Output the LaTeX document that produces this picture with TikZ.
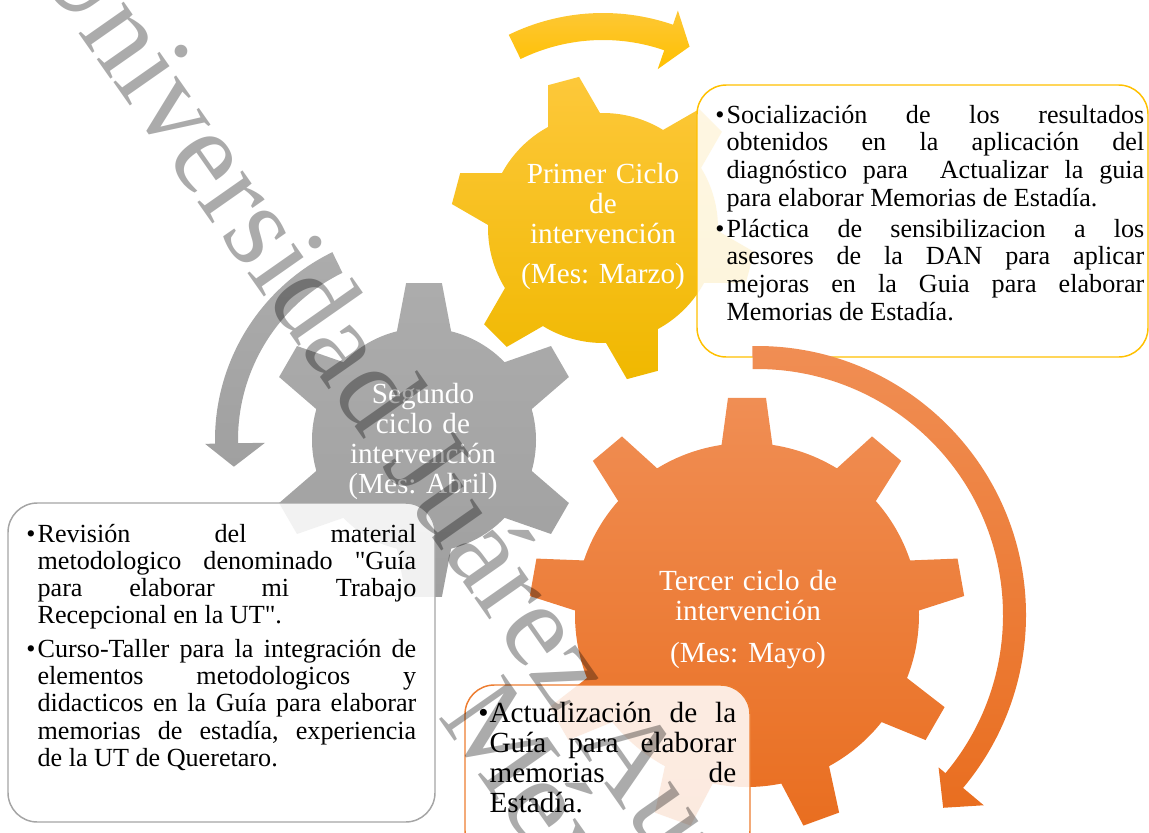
\documentclass[tikz,border=0pt]{standalone}
\usepackage{fontspec}
\setmainfont{Liberation Serif}[Ligatures=TeXOff]
\usetikzlibrary{positioning}
\setlength{\parindent}{0pt}
\frenchspacing

\definecolor{yellowtop}{RGB}{253,200,58}
\definecolor{yellowbot}{RGB}{240,184,0}
\definecolor{graytop}{RGB}{172,172,172}
\definecolor{graybot}{RGB}{160,160,160}
\definecolor{orangetop}{RGB}{240,142,84}
\definecolor{orangebot}{RGB}{233,110,32}
\definecolor{lineyellow}{RGB}{255,192,0}
\definecolor{linegray}{RGB}{165,165,165}
\definecolor{lineorange}{RGB}{237,125,49}

% outline of a gear: teeth, first tooth angle, body radius, tip radius, half angle at base, half angle at tip
\newcommand{\gearoutline}[6]{(#2-#5:#3)
  \foreach \k [evaluate=\k as \a using #2+360*(\k-1)/#1] in {1,...,#1}{
    -- (\a-#5:#3) -- (\a-#6:#4) -- (\a+#6:#4) -- (\a+#5:#3)
    arc[start angle={\a+#5}, end angle={\a+360/#1-#5}, radius=#3]
  } -- cycle}

\newcommand{\bitem}[1]{\hangindent=8.5pt\hangafter=1\makebox[8.5pt][l]{\textbullet}#1\par}

\tikzset{
  gearlabel/.style={text=white, align=center, text width=170pt, inner sep=0pt, anchor=base,
    font=\fontsize{21.9}{22.5}\selectfont},
  boxtext/.style={text=black, align=justify, inner sep=0pt, anchor=base west},
  notebox/.style={line width=1.1pt, rounded corners=22pt, fill=white, fill opacity=0.86},
  watermark/.style={rotate=-55, anchor=base west, inner sep=0pt, text=black, text opacity=0.33,
    font=\fontsize{90}{92}\selectfont}
}

\begin{document}
\begin{tikzpicture}[x=0.75pt, y=-0.75pt]
\useasboundingbox (0,0) rectangle (1149,832);

% gears
\begin{scope}[shift={(424,440)}]
\path[top color=graytop, bottom color=graybot] \gearoutline{6}{-90}{112}{158}{14}{6.5};
\end{scope}
\begin{scope}[shift={(603,228)}]
\path[top color=yellowtop, bottom color=yellowbot] \gearoutline{6}{-45}{115}{153}{13.5}{6};
\end{scope}
\begin{scope}[shift={(747,615)}]
\path[top color=orangetop, bottom color=orangebot] \gearoutline{9}{-90}{172}{218}{8.5}{5};
\end{scope}

\node[gearlabel] (primer) at (603,183) {Primer Ciclo\\de\\intervención\\[7.5pt](Mes: Marzo)};
\node[gearlabel] (segundo) at (423,403) {Segundo\\ciclo de\\intervención\\(Mes: Abril)};
\node[gearlabel] (tercer) at (748,590) {Tercer ciclo de\\intervención\\[9pt](Mes: Mayo)};

% boxes
\draw[notebox, draw=lineyellow] (697,85) rectangle (1148,357);
\draw[notebox, draw=linegray] (8,503) rectangle (435,822);
\draw[notebox, draw=lineorange] (465,685) rectangle (750,860);

\node[boxtext, text width=321.75pt, font=\fontsize{19.6}{20.8}\selectfont] (marzotext) at (715,123) {%
\tolerance=10000\hbadness=10000\setlength{\parskip}{2.3pt}%
\bitem{Socialización de los resultados\linebreak obtenidos en la aplicación del\linebreak diagnóstico para \ Actualizar la guia\linebreak para elaborar Memorias de Estadía.}%
\bitem{Pláctica de sensibilizacion a los\linebreak asesores de la DAN para aplicar\linebreak mejoras en la Guia para elaborar\linebreak Memorias de Estadía.}};

\node[boxtext, text width=292.5pt, font=\fontsize{19.6}{20.4}\selectfont] (abriltext) at (26,542) {%
\tolerance=10000\hbadness=10000\setlength{\parskip}{5pt}%
\bitem{Revisión del material\linebreak metodologico denominado "Guía\linebreak para elaborar mi Trabajo\linebreak Recepcional en la UT".}%
\bitem{Curso-Taller para la integración de\linebreak elementos metodologicos y\linebreak didacticos en la Guía para elaborar\linebreak memorias de estadía, experiencia\linebreak de la UT de Queretaro.}};

\node[boxtext, text width=193.5pt, font=\fontsize{21.9}{22.5}\selectfont] (mayotext) at (478,722) {%
\tolerance=10000\hbadness=10000%
\bitem{Actualización de la\linebreak Guía para elaborar\linebreak memorias de\linebreak Estadía.}};

% circular arrows
\begin{scope}[shift={(603,228)}]
\path[top color=yellowtop, bottom color=lineyellow] (-116:215) arc[start angle=-116, end angle=-71, radius=215]
  -- (-71:230) -- (-64.5:201) -- (-71:168) -- (-71:188) arc[start angle=-71, end angle=-116, radius=188] -- cycle;
\end{scope}
\begin{scope}[shift={(424,440)}]
\path[top color=graytop, bottom color=graybot] (-116:209) arc[start angle=-116, end angle=-181, radius=209]
  -- (-181:219) -- (-188:192) -- (-181:159) -- (-181:186) arc[start angle=-181, end angle=-116, radius=186] -- cycle;
\end{scope}
\begin{scope}[shift={(757,615)}]
\path[top color=orangetop, bottom color=orangebot] (-91:269) arc[start angle=-91, end angle=40, radius=269]
  -- (40:296) -- (46:268) -- (40:237) -- (40:246) arc[start angle=40, end angle=-91, radius=246] -- cycle;
\end{scope}

% watermark
\node[watermark] (wmA) at (28,-40) {Universidad Juárez Autónoma de Tabasco};
\node[watermark] (wmB) at (437,716) {México};
\end{tikzpicture}
\end{document}
